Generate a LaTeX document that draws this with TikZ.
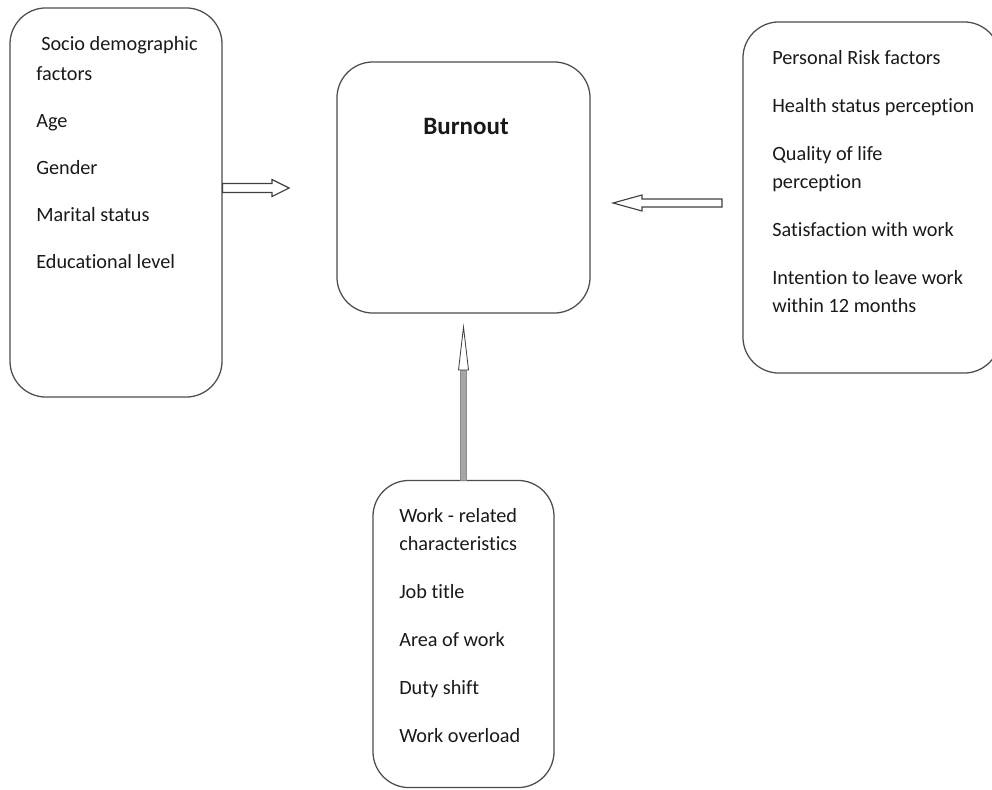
\documentclass[tikz,border=0pt]{standalone}
\usepackage{fontspec}
\setmainfont{Carlito}[Ligatures=NoCommon]
\usetikzlibrary{calc}
\tikzset{
  box/.style={draw=black!70, line width=0.9pt, rounded corners=0.9cm},
  item/.style={anchor=base west, inner sep=0pt, font=\fontsize{14.4}{17}\selectfont, text=black!90},
  hollowarrow/.style={draw=black!75, line width=0.8pt, fill=white, line join=miter},
}

\begin{document}
\begin{tikzpicture}[x=0.025cm, y=-0.025cm]
  \def\lx{36}
  \def\rx{772}
  \def\bx{399}

  \useasboundingbox (0,0) rectangle (992,789);

  % Draw boxes
  \node[box, minimum width=5.3cm, minimum height=9.725cm] (socio) at (116,202.5) {};
  \node[box, minimum width=6.325cm, minimum height=6.275cm] (burnout) at (463.5,187.5) {};
  \node[box, minimum width=6.425cm, minimum height=8.775cm] (personal) at (871.5,197.5) {};
  \node[box, minimum width=4.525cm, minimum height=7.675cm] (work) at (463.5,634) {};

  % Centre title
  \node[item, anchor=base, font=\fontsize{17.8}{21}\selectfont\bfseries] (title) at (466,134) {Burnout};

  % Left box text
  \node[item] (socio0) at (41,50) {Socio demographic};
  \node[item] (socio1) at (\lx,80) {factors};
  \node[item] (socio2) at (\lx,127) {Age};
  \node[item] (socio3) at (\lx,174) {Gender};
  \node[item] (socio4) at (\lx,221) {Marital status};
  \node[item] (socio5) at (\lx,268) {Educational level};

  % Right box text
  \node[item] (pers0) at (\rx,64) {Personal Risk factors};
  \node[item] (pers1) at (\rx,112) {Health status perception};
  \node[item] (pers2) at (\rx,160) {Quality of life};
  \node[item] (pers3) at (\rx,188) {perception};
  \node[item] (pers4) at (\rx,236) {Satisfaction with work};
  \node[item] (pers5) at (\rx,284) {Intention to leave work};
  \node[item] (pers6) at (\rx,312) {within 12 months};

  % Bottom box text
  \node[item] (work0) at (\bx,522) {Work - related};
  \node[item] (work1) at (\bx,550) {characteristics};
  \node[item] (work2) at (\bx,598) {Job title};
  \node[item] (work3) at (\bx,646) {Area of work};
  \node[item] (work4) at (\bx,694) {Duty shift};
  \node[item] (work5) at (\bx,742) {Work overload};

  % Left arrow
  \coordinate (socioTail) at (socio.east |- 0,188);
  \coordinate (socioTip) at (289,188);
  \draw[hollowarrow] ($(socioTail)+(0,-4.5)$) -- ($(socioTip)+(-17,-4.5)$) -- ($(socioTip)+(-17,-8.5)$)
    -- (socioTip) -- ($(socioTip)+(-17,8.5)$) -- ($(socioTip)+(-17,4.5)$) -- ($(socioTail)+(0,4.5)$) -- cycle;

  % Right arrow
  \coordinate (persTail) at (722,203);
  \coordinate (persTip) at (613,203);
  \draw[hollowarrow] ($(persTail)+(0,-4)$) -- ($(persTip)+(29,-4)$) -- ($(persTip)+(29,-8)$)
    -- (persTip) -- ($(persTip)+(29,8)$) -- ($(persTip)+(29,4)$) -- ($(persTail)+(0,4)$) -- cycle;

  % Up arrow
  \coordinate (workTip) at (463.5,327);
  \draw[fill=black!35, draw=black!45, line width=0.4pt] ($(work.north)+(-3,0)$) rectangle ($(workTip)+(3,43)$);
  \draw[hollowarrow, line width=0.6pt] ($(workTip)+(-5,43)$) -- (workTip) -- ($(workTip)+(5,43)$) -- cycle;
\end{tikzpicture}
\end{document}
